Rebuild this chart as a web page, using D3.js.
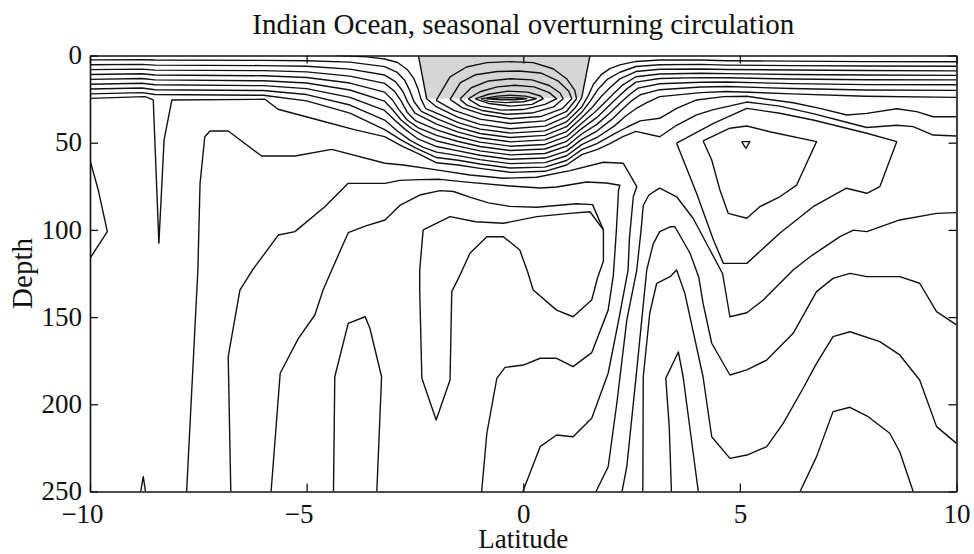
<!DOCTYPE html>
<html><head><meta charset="utf-8">
<script src="https://cdn.jsdelivr.net/npm/d3@7"></script>
<style>body{margin:0;background:#fff}svg{display:block}</style>
</head><body>
<svg id="c" width="974" height="554"></svg>
<script>
// ---- data (latitude, depth) ----
const latTicks = [-10, -5, 0, 5, 10];
const depthTicks = [0, 50, 100, 150, 200, 250];
const titleText = "Indian Ocean, seasonal overturning circulation";

const grayPatch = [[-2.42,0],[1.54,0],[1.35,24.2],[-2.23,24.8]];

const uLine = [[-2.42,0],[-2.23,24.8],[-2.0,29.5],[-1.5,35.5],[-1.0,39.5],[-0.3,42],[0.5,40.5],[1.0,35],[1.2,30],[1.35,24.2],[1.54,0]];

const cellRings = [
  [[-2.01,25.7],[-1.69,12.3],[-1.31,6.6],[-0.84,4.1],[-0.31,3.5],[0.23,4.1],[0.69,7.6],[1.0,13.3],[1.19,20],[1.23,24.8],[1.0,32],[0.5,37.5],[-0.3,39],[-1.0,36.5],[-1.6,31.5],[-2.01,25.7]],
  [[-1.69,25.2],[-1.45,15.5],[-1.1,11.0],[-0.6,9.2],[-0.1,8.9],[0.4,10.0],[0.8,14.5],[1.05,20.5],[1.12,24.8],[0.9,30.5],[0.4,35],[-0.3,36.3],[-0.9,34],[-1.4,30],[-1.69,25.2]],
  [[-1.46,25.0],[-1.2,18.5],[-0.8,14.6],[-0.3,13.3],[0.2,14.0],[0.6,17.2],[0.85,21.5],[0.92,24.8],[0.7,29.5],[0.2,33],[-0.4,33.7],[-0.95,31.5],[-1.3,28.5],[-1.46,25.0]],
  [[-1.27,24.9],[-1.0,20.8],[-0.6,18.0],[-0.2,17.1],[0.25,18.0],[0.6,21.3],[0.77,24.8],[0.5,28],[0.0,31],[-0.5,31.3],[-1.0,29],[-1.27,24.9]],
  [[-1.11,24.9],[-0.8,22.2],[-0.35,20.4],[0.1,21.0],[0.4,23.2],[0.46,24.8],[0.2,28],[-0.3,29],[-0.8,27.5],[-1.11,24.9]],
  [[-0.98,24.9],[-0.6,23.3],[-0.3,22.8],[0.05,23.3],[0.3,24.8],[0.0,26.5],[-0.4,27],[-0.8,26.3],[-0.98,24.9]],
  [[-0.85,24.8],[-0.55,24.3],[-0.25,24.2],[0.0,24.5],[0.08,24.8],[-0.2,25.4],[-0.5,25.4],[-0.85,24.8]]
];

const surfaceLines = [
  [[-4.3,0],[-3.6,0.8],[-3.2,2.0],[-2.9,4.0],[-2.68,8.0],[-2.53,13],[-2.43,19],[-2.36,25],[-2.25,30.5],[-2.0,33],[-1.5,38.5],[-1.0,42.2],[-0.3,44.5],[0.5,43.2],[1.0,38],[1.35,29.5],[1.5,23],[1.62,16.5],[1.8,11],[2.0,7.5],[2.23,5.4],[2.6,3.4],[3.15,2.6],[4.1,2.6],[4.7,3.0],[6.2,3.2],[7.9,3.5],[10,3.6]],
  [[-10,2.5],[-8.8,2.4],[-8.5,2.6],[-6,2.8],[-5,3.0],[-4,3.8],[-3.2,6.4],[-2.92,9.5],[-2.74,14],[-2.62,20],[-2.52,26.5],[-2.35,32],[-2.0,36.2],[-1.5,41.2],[-1.0,44.7],[-0.3,47],[0.5,45.8],[1.0,40.8],[1.35,32.6],[1.55,26],[1.72,19.5],[1.95,13.5],[2.23,9.6],[2.6,6.3],[3.15,5.3],[4.1,5.1],[4.7,5.5],[6.2,5.8],[7.9,6.0],[10,6.2]],
  [[-10,5.3],[-8.8,5.1],[-8.5,5.5],[-6,5.8],[-5,6.2],[-4,7.8],[-3.2,11.2],[-2.95,15],[-2.78,20.5],[-2.66,27],[-2.5,33],[-2.0,39.4],[-1.5,43.9],[-1.0,47.2],[-0.3,49.5],[0.5,48.4],[1.0,43.6],[1.35,35.7],[1.6,29.5],[1.8,23.5],[2.0,18.5],[2.23,13.4],[2.6,9.2],[3.15,7.9],[4.1,7.7],[4.7,8.0],[6.2,8.3],[7.9,8.6],[10,8.8]],
  [[-10,8.1],[-8.8,7.8],[-8.5,8.4],[-6,8.7],[-5,9.4],[-4,11.8],[-3.2,16],[-2.97,20.5],[-2.82,26],[-2.68,32.5],[-2.48,37.5],[-2.0,42.6],[-1.5,46.6],[-1.0,49.7],[-0.3,52],[0.5,51],[1.0,46.4],[1.35,38.8],[1.65,32.5],[1.9,26.5],[2.1,21.5],[2.3,16.8],[2.6,12.2],[3.15,10.6],[4.1,10.2],[4.7,10.4],[6.2,10.9],[7.9,11.2],[10,11.4]],
  [[-10,10.9],[-8.8,10.5],[-8.5,11.2],[-6,11.6],[-5,12.6],[-4,15.8],[-3.2,21],[-3.02,25.5],[-2.87,31],[-2.68,37],[-2.42,41.5],[-2.0,45.8],[-1.5,49.3],[-1.0,52.2],[-0.3,54.5],[0.5,53.6],[1.0,49.2],[1.35,41.9],[1.7,35.5],[1.95,29.5],[2.2,23.5],[2.4,19],[2.6,15.3],[3.15,13.2],[4.1,12.7],[4.7,12.8],[6.2,13.5],[7.9,13.9],[10,14.0]],
  [[-10,13.7],[-8.8,13.2],[-8.5,14.0],[-6,14.5],[-5,15.8],[-4,19.8],[-3.2,26.2],[-3.02,31],[-2.82,37],[-2.57,42],[-2.3,46],[-2.0,49],[-1.5,52],[-1.0,54.7],[-0.3,57],[0.5,56.2],[1.0,52],[1.35,45],[1.7,39.5],[2.0,33],[2.25,27],[2.45,22.5],[2.65,18.7],[3.15,16.2],[4.1,15.3],[4.7,15.2],[6.2,16.1],[7.9,16.7],[10,16.8]],
  [[-10,16.5],[-8.8,15.9],[-8.5,16.8],[-6,17.3],[-5,19.0],[-4,24.0],[-3.2,31.5],[-2.97,37],[-2.72,42.5],[-2.42,48],[-2.0,52.2],[-1.5,54.7],[-1.0,57.2],[-0.3,59.5],[0.5,58.8],[1.0,54.8],[1.35,48.1],[1.7,43.3],[2.05,36.5],[2.3,30.5],[2.5,26],[2.7,22.5],[3.15,19.6],[4.1,18.1],[4.7,17.8],[6.2,18.9],[7.9,19.8],[10,20.0]],
  [[-10,19.2],[-8.8,18.6],[-8.5,19.6],[-6,20.1],[-5,22.4],[-4,28.4],[-3.2,37],[-2.92,43],[-2.62,48.5],[-2.32,52.5],[-2.0,55.4],[-1.5,57.4],[-1.0,59.7],[-0.3,62],[0.5,61.4],[1.0,57.5],[1.35,51.1],[1.7,47],[2.1,40.5],[2.35,35],[2.6,30.5],[2.85,27],[3.15,23.6],[4.1,21.3],[4.7,20.6],[6.2,22.0],[7.9,23.4],[10,24.0]],
  [[-10,22.0],[-8.8,21.3],[-8.5,22.4],[-6,22.8],[-5,26.0],[-4,33.0],[-3.2,42.5],[-2.85,48],[-2.5,52.8],[-2.0,58.5],[-1.5,60.1],[-1.0,62.2],[-0.3,64.5],[0.5,64],[1.0,60.2],[1.35,54],[1.7,50.5],[2.1,45],[2.4,41],[2.7,37.5],[3.15,36],[3.54,30.3],[4.0,25.5],[4.62,23.6],[5.16,23.4],[6.23,27.1],[6.85,30.3],[7.47,34.1],[7.93,33.2],[8.62,30.5],[9.08,32.2],[9.46,35.1],[10,35.1]],
  [[-10,24.6],[-8.73,23.6],[-8.54,25.5],[-8.41,107.7],[-8.29,48.4],[-8.11,25.5],[-5.96,25.1],[-5.66,30.8],[-4.58,38],[-3.9,42.5],[-3.2,46.5],[-2.8,52],[-2.4,56.5],[-2.0,61.5],[-1.5,62.8],[-1.0,64.7],[-0.3,67],[0.5,66.4],[1.0,62.8],[1.35,56.8],[1.7,54.0],[2.0,50.5],[2.3,46.5],[2.6,43.5],[3.15,46.6],[3.54,40],[4.0,34],[4.39,31],[5.16,26.7],[5.92,29],[6.69,33.3],[7.46,38.3],[7.93,41.3],[8.62,40],[9.0,40.8],[9.46,45.6],[10,46.2]]
];

const archLines = [
  [[-7.77,250],[-7.51,123],[-7.46,73.3],[-7.35,46.6],[-7.23,43.3],[-6.81,43.3],[-6.04,57.6],[-5.27,57.6],[-4.42,53.8],[-3.19,61.8],[-2.77,62.8],[-2.0,65.6],[-1.23,68.5],[-0.46,70.4],[0.31,69.8],[1.08,66],[1.85,61.2],[2.31,61.8],[2.62,75.2],[2.54,81],[2.45,105],[2.42,123],[2.2,152],[1.96,182.2],[1.58,208],[1.15,218.6],[0.77,217.6],[0.39,224.3],[-0.01,250]],
  [[-6.75,250],[-6.81,172.7],[-6.54,134.5],[-6.25,123],[-5.65,102.9],[-5.27,101],[-4.58,86.7],[-4.04,73.3],[-3.19,73.3],[-2.85,71.6],[-2.4,71.2],[-1.92,71],[-1.3,72.6],[-0.3,74.8],[0.4,76],[0.77,75.4],[1.46,72.5],[1.92,73.1],[2.23,74.4],[2.2,77.1],[2.15,100],[2.08,125.9],[1.96,146],[1.58,170.4],[1.15,178.4],[0.77,173.6],[0.39,173.6],[0,177.5],[-0.42,178.8],[-0.61,185.1],[-0.84,216.6],[-0.96,250]],
  [[-5.82,250],[-5.61,182.2],[-5.19,162.2],[-4.81,148.8],[-4.62,134.5],[-4.42,123],[-4.04,101.6],[-3.65,97.8],[-3.19,94.3],[-2.85,86],[-2.39,80],[-1.92,77.5],[-1.61,78],[-1.2,81.5],[-0.8,84.5],[-0.31,86.5],[0.31,87],[0.77,86],[1.23,85],[1.6,85.5],[1.85,100]]
];

const piLoop = [[-2.31,100],[-1.69,92.4],[-1.1,95.3],[-0.46,96.2],[0.31,92.4],[1.08,90.5],[1.54,89.6],[1.85,100],[1.85,118],[1.72,127],[1.58,140.2],[1.15,149.8],[0.77,146],[0.23,134.5],[0.1,124],[-0.08,111.5],[-0.46,103.9],[-0.84,103.9],[-1.23,113.4],[-1.46,125.9],[-1.65,135.4],[-1.69,186.1],[-2.01,209],[-2.34,185.1],[-2.39,134.5],[-2.39,123],[-2.31,100]];

const waveLines = [
  [[1.68,250],[1.96,235.8],[2.16,199.4],[2.39,151.7],[2.62,123],[2.72,100],[2.77,86],[2.9,80],[3.08,77.1],[3.15,76.1],[3.54,81],[3.92,93.3],[4.31,111.5],[4.6,125],[4.77,149.8],[5.16,147.5],[5.54,140.2],[6.23,123],[6.62,115.4],[7.31,103.9],[7.62,100.1],[7.93,101],[8.69,94.3],[9.54,90.5],[10,90.1]],
  [[2.28,250],[2.39,235.8],[2.62,180.3],[2.85,123],[3.0,108],[3.15,101],[3.39,98.2],[3.5,98.2],[3.85,113.4],[4.05,127],[4.15,142],[4.35,165],[4.77,183.2],[5.16,180.3],[5.62,174.6],[6.23,159.3],[6.77,135.4],[7.15,127.8],[7.54,124.9],[7.93,126.8],[8.69,126.8],[9.15,130.6],[9.54,146.9],[10,154.5]],
  [[2.76,250],[2.77,184.2],[2.92,147.8],[3.08,130.6],[3.39,126.8],[3.54,123],[3.73,136.4],[4.15,184.2],[4.35,218.6],[4.77,231],[5.16,229.1],[5.62,224.3],[6.0,210.9],[6.46,190.8],[6.77,176.5],[7.15,161.2],[7.54,158.4],[8.23,164.1],[8.69,171.7],[9.15,186.1],[9.54,212.8],[10,222.4]]
];

const eddyLoops = [
  [[3.54,50.3],[4.39,38.9],[5.16,30.3],[5.92,33.1],[6.69,37],[7.46,41.7],[7.93,44.6],[8.62,49.4],[8.23,75.2],[7.93,79],[7.46,76.1],[6.69,86.7],[5.92,101.9],[5.16,119.2],[4.62,119.2],[4.39,105.8],[4.0,79],[3.54,50.3]],
  [[4.15,48.9],[4.77,41.7],[5.16,40.4],[5.69,43.7],[6.77,49.4],[6.54,61.8],[6.31,74.3],[5.92,81],[5.46,86.7],[5.16,93.3],[4.73,90.5],[4.54,77.1],[4.35,59.9],[4.15,48.9]],
  [[5.04,49.4],[5.23,49.4],[5.14,53.2],[5.04,49.4]]
];

const bottomLines = [
  [[-4.38,250],[-4.35,184.2],[-4.04,153.6],[-3.65,149.8],[-3.54,156.4],[-3.27,184.2],[-3.38,250]],
  [[3.42,250],[3.37,213],[3.29,185],[3.58,170],[3.69,184.2],[4.04,250]],
  [[6.39,250],[6.77,230],[7.15,204.2],[7.54,201.7],[7.96,207.1],[8.46,216.6],[8.69,227.2],[9.0,250]],
  [[-8.83,250],[-8.77,241.5],[-8.72,250]]
];

const edgeBump = [[-10,60],[-9.81,77.1],[-9.6,101],[-10,116.3]];

// ---- drawing ----
const plotL = 90, plotR = 956.5, plotT = 55.5, plotB = 491.5;
const x = d3.scaleLinear().domain([-10, 10]).range([plotL, plotR]);
const y = d3.scaleLinear().domain([0, 250]).range([plotT, plotB]);
const svg = d3.select("#c");
const FONT = "'Liberation Serif','Times New Roman',serif";

svg.append("defs").append("clipPath").attr("id", "plot")
  .append("rect").attr("x", plotL).attr("y", plotT)
  .attr("width", plotR - plotL).attr("height", plotB - plotT);

const g = svg.append("g").attr("clip-path", "url(#plot)");
const line = d3.line().x(d => x(d[0])).y(d => y(d[1]));

g.append("path").attr("d", line(grayPatch) + "Z")
  .attr("fill", "#d6d6d6").attr("stroke", "none");

const allLines = [uLine, ...cellRings, ...surfaceLines, ...archLines, piLoop,
  ...waveLines, ...eddyLoops, ...bottomLines, edgeBump];
g.selectAll("path.c").data(allLines).join("path").attr("class", "c")
  .attr("d", line).attr("fill", "none").attr("stroke", "#111")
  .attr("stroke-width", 1.4).attr("stroke-linejoin", "round");

// axes (MATLAB-style inward ticks, full box)
const fmt = d3.format("d");
const axB = svg.append("g").attr("transform", `translate(0,${plotB})`)
  .call(d3.axisBottom(x).tickValues(latTicks).tickSize(-8).tickSizeOuter(0).tickFormat(fmt));
const axT = svg.append("g").attr("transform", `translate(0,${plotT})`)
  .call(d3.axisTop(x).tickValues(latTicks).tickSize(-8).tickSizeOuter(0).tickFormat(""));
const axL = svg.append("g").attr("transform", `translate(${plotL},0)`)
  .call(d3.axisLeft(y).tickValues(depthTicks).tickSize(-8).tickSizeOuter(0).tickPadding(8).tickFormat(fmt));
const axR = svg.append("g").attr("transform", `translate(${plotR},0)`)
  .call(d3.axisRight(y).tickValues(depthTicks).tickSize(-8).tickSizeOuter(0).tickFormat(""));

[axB, axT, axL, axR].forEach(a => {
  a.selectAll("path.domain").attr("stroke", "#111").attr("stroke-width", 1.6);
  a.selectAll(".tick line").attr("stroke", "#111").attr("stroke-width", 1.3);
  a.selectAll("text").attr("font-family", FONT).attr("font-size", 27).attr("fill", "#111");
});
axB.selectAll(".tick text").attr("y", 31).attr("dy", null)
  .attr("dx", d => d < 0 ? -8 : 0);
axL.selectAll(".tick text").attr("dy", "0.3em");

svg.append("text").attr("x", (plotL + plotR) / 2).attr("y", 33.5)
  .attr("text-anchor", "middle").attr("font-family", FONT).attr("font-size", 29)
  .attr("fill", "#111").text(titleText);
svg.append("text").attr("x", (plotL + plotR) / 2).attr("y", 548)
  .attr("text-anchor", "middle").attr("font-family", FONT).attr("font-size", 27)
  .attr("fill", "#111").text("Latitude");
svg.append("text").attr("transform", `translate(32,${(plotT + plotB) / 2}) rotate(-90)`)
  .attr("text-anchor", "middle").attr("font-family", FONT).attr("font-size", 29)
  .attr("fill", "#111").text("Depth");
</script>
</body></html>
